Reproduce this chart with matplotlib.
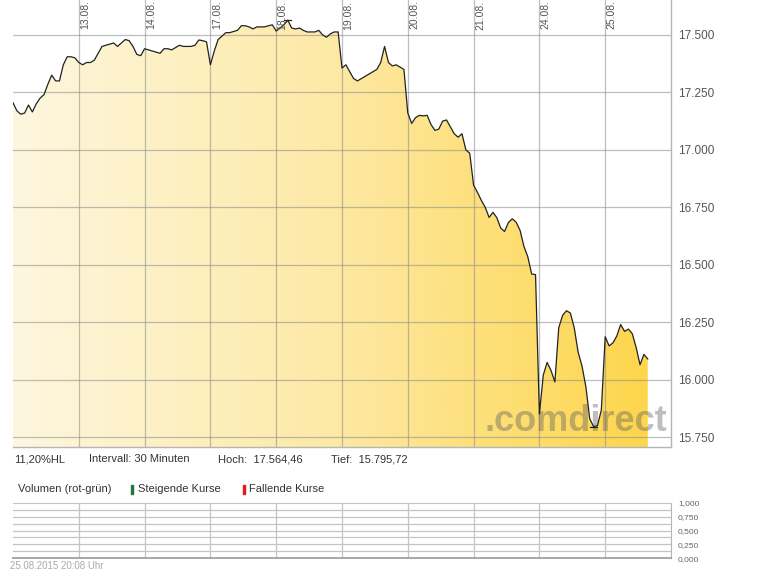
import numpy as np
import matplotlib
matplotlib.use("Agg")
import matplotlib.pyplot as plt
from matplotlib.colors import LinearSegmentedColormap

plt.rcParams['font.family'] = ['Liberation Sans', 'DejaVu Sans']

# 30-minute closing values, 17 per trading day
day_labels = ["12.08.", "13.08.", "14.08.", "17.08.", "18.08.",
              "19.08.", "20.08.", "21.08.", "24.08.", "25.08."]
d1208 = [17.205, 17.17, 17.155, 17.16, 17.195, 17.165, 17.20, 17.225, 17.24,
         17.285, 17.325, 17.30, 17.30, 17.37, 17.405, 17.405, 17.40]
d1308 = [17.38, 17.37, 17.38, 17.38, 17.39, 17.42, 17.45, 17.455, 17.46,
         17.465, 17.45, 17.465, 17.48, 17.475, 17.45, 17.415, 17.41]
d1408 = [17.44, 17.435, 17.43, 17.425, 17.42, 17.44, 17.44, 17.435, 17.445,
         17.455, 17.45, 17.45, 17.45, 17.455, 17.478, 17.475, 17.47]
d1708 = [17.37, 17.43, 17.48, 17.495, 17.51, 17.51, 17.515, 17.52, 17.54,
         17.54, 17.535, 17.526, 17.535, 17.535, 17.535, 17.54, 17.544]
d1808 = [17.517, 17.53, 17.545, 17.564, 17.53, 17.526, 17.53, 17.52, 17.513,
         17.513, 17.513, 17.52, 17.50, 17.49, 17.505, 17.513, 17.513]
d1908 = [17.356, 17.37, 17.34, 17.31, 17.30, 17.31, 17.32, 17.33, 17.34,
         17.35, 17.38, 17.45, 17.38, 17.365, 17.37, 17.36, 17.35]
d2008 = [17.16, 17.115, 17.14, 17.15, 17.148, 17.15, 17.11, 17.085, 17.09,
         17.125, 17.13, 17.10, 17.07, 17.055, 17.07, 17.00, 16.985]
d2108 = [16.846, 16.815, 16.78, 16.75, 16.706, 16.728, 16.705, 16.66, 16.645,
         16.684, 16.70, 16.685, 16.65, 16.58, 16.535, 16.46, 16.457]
d2408 = [15.85, 16.02, 16.075, 16.04, 15.99, 16.226, 16.28, 16.30, 16.29,
         16.226, 16.12, 16.06, 15.97, 15.83, 15.796, 15.80, 15.868]
d2508 = [16.187, 16.147, 16.16, 16.19, 16.24, 16.21, 16.22, 16.20, 16.14,
         16.065, 16.11, 16.09]

price_ticks = [15.75, 16.0, 16.25, 16.5, 16.75, 17.0, 17.25, 17.5]
vol_ticks = [0.0, 0.25, 0.5, 0.75, 1.0]
info_texts = ["11,20%HL", "Intervall: 30 Minuten", "Hoch:  17.564,46", "Tief:  15.795,72"]

per_day = 17
price = np.array(d1208 + d1308 + d1408 + d1708 + d1808 + d1908 + d2008 + d2108 + d2408 + d2508)
x = np.arange(len(price))

W, H = 770, 576
fig = plt.figure(figsize=(W / 100, H / 100), dpi=100)

def fx(px):
    return px / W

def fy(py):
    return 1 - py / H

grid_col = "#8a8a8a"
ymin, ymax = 15.707, 17.652
xmax = per_day * len(day_labels)

# main price panel
ax = fig.add_axes([fx(13), fy(447), fx(671) - fx(13), fy(0) - fy(447)])

poly = ax.fill_between(x, price, ymin, facecolor="none", edgecolor="none")
cmap = LinearSegmentedColormap.from_list("gold", ["#fef7e0", "#fde9a6", "#fdd64c"])
grad = np.linspace(0, 1, 256).reshape(1, -1)
im = ax.imshow(grad, extent=[0, x[-1], ymin, ymax], aspect="auto", cmap=cmap,
               zorder=1, interpolation="bilinear")
im.set_clip_path(poly.get_paths()[0], transform=ax.transData)
ax.set_xlim(0, xmax)
ax.set_ylim(ymin, ymax)

for t in price_ticks:
    ax.axhline(t, color=grid_col, lw=0.9, alpha=0.55, zorder=2)
for i in range(1, len(day_labels)):
    ax.axvline(i * per_day, color=grid_col, lw=0.9, alpha=0.55, zorder=2)

ax.plot(x, price, color="#222222", lw=0.9, zorder=4)
ihi, ilo = np.argmax(price), np.argmin(price)
ax.plot([ihi - 0.9, ihi + 0.9], [price[ihi]] * 2, color="#222222", lw=0.9, zorder=4)
ax.plot([ilo - 0.9, ilo + 0.9], [price[ilo]] * 2, color="#222222", lw=0.9, zorder=4)

for i, lab in enumerate(day_labels[1:], start=1):
    ax.text(i * per_day + 0.35, ymax - 0.002, lab, rotation=90, ha="left", va="top",
            fontsize=7.5, color="#555555", zorder=5)

ax.text(0.994, 0.036, ".comdirect", transform=ax.transAxes, ha="right", va="baseline",
        fontsize=26, fontweight="bold", color="#5e5e5e", alpha=0.4, zorder=3)

ax.set_yticks(price_ticks)
ax.set_yticklabels([f"{t:.3f}" for t in price_ticks])
ax.set_xticks([])
ax.yaxis.tick_right()
ax.tick_params(axis="y", length=0, pad=5, labelsize=8.5, labelcolor="#555555")
for s in ["left", "top"]:
    ax.spines[s].set_visible(False)
for s in ["right", "bottom"]:
    ax.spines[s].set_color("#b5b5b5")
    ax.spines[s].set_linewidth(1.0)

# info line
for px, txt in zip([14, 89, 218, 331], info_texts):
    fig.text(fx(px), fy(459), txt, fontsize=8, color="#333333", va="center", ha="left")

# volume legend line
fig.text(fx(18), fy(489), "Volumen (rot-grün)", fontsize=8, color="#333333", va="center")
fig.patches.append(plt.Rectangle((fx(130.5), fy(493.5)), 2 / W, 9 / H,
                                 transform=fig.transFigure, color="#1b7a3a", figure=fig))
fig.text(fx(138), fy(489), "Steigende Kurse", fontsize=8, color="#333333", va="center")
fig.patches.append(plt.Rectangle((fx(242.5), fy(493.5)), 2 / W, 9 / H,
                                 transform=fig.transFigure, color="#e01b1b", figure=fig))
fig.text(fx(249), fy(489), "Fallende Kurse", fontsize=8, color="#333333", va="center")

# volume panel (empty)
axv = fig.add_axes([fx(13), fy(558.3), fx(671) - fx(13), fy(502.7) - fy(558.3)])
axv.set_xlim(0, xmax)
axv.set_ylim(0, 1)
for t in np.arange(0.125, 1.0, 0.125):
    axv.axhline(t, color="#c4c4c4", lw=0.9, zorder=1)
for i in range(1, len(day_labels)):
    axv.axvline(i * per_day, color="#c4c4c4", lw=0.9, zorder=1)
axv.set_xticks([])
axv.set_yticks(vol_ticks)
axv.set_yticklabels([f"{t:.3f}".replace(".", ",") for t in vol_ticks])
axv.yaxis.tick_right()
axv.tick_params(axis="y", length=0, pad=5, labelsize=6, labelcolor="#666666")
axv.spines["left"].set_visible(False)
axv.spines["top"].set_color("#c4c4c4")
axv.spines["right"].set_color("#b5b5b5")
axv.spines["bottom"].set_color("#a0a0a0")
axv.spines["bottom"].set_linewidth(1.3)

fig.text(fx(10), fy(566), "25.08.2015 20:08 Uhr", fontsize=7, color="#aaaaaa", va="center")

fig.savefig("out.png", dpi=100)
